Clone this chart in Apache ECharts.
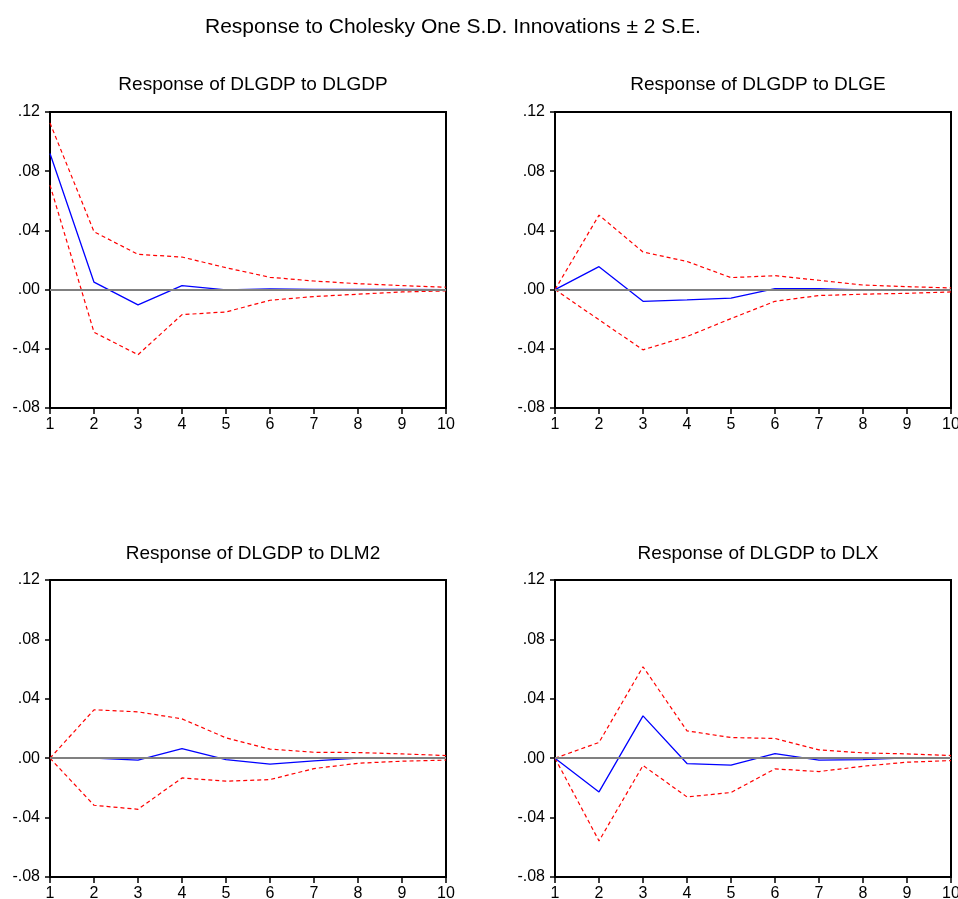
<!DOCTYPE html>
<html>
<head>
<meta charset="utf-8">
<script src="https://cdn.jsdelivr.net/npm/echarts@6/dist/echarts.min.js"></script>
<style>
html,body{margin:0;padding:0;background:#fff;}
#chart{width:958px;height:899px;}
</style>
</head>
<body>
<div id="chart"></div>
<script>
const periods = ['1','2','3','4','5','6','7','8','9','10'];
const mainTitle = 'Response to Cholesky One S.D. Innovations \u00b1 2 S.E.';
const panelTitles = ['Response of DLGDP to DLGDP','Response of DLGDP to DLGE','Response of DLGDP to DLM2','Response of DLGDP to DLX'];

// Panel 1: DLGDP -> DLGDP
const resp1  = [0.092, 0.005, -0.0103, 0.0027, -0.0002, 0.0004, 0.0002, 0.0001, 0.0001, 0.0];
const upper1 = [0.1126, 0.0391, 0.0238, 0.022, 0.0148, 0.0083, 0.0058, 0.004, 0.0027, 0.0016];
const lower1 = [0.0706, -0.0288, -0.044, -0.0169, -0.0151, -0.0072, -0.0047, -0.0031, -0.0016, -0.0009];
// Panel 2: DLGDP -> DLGE
const resp2  = [0, 0.0155, -0.0079, -0.007, -0.0058, 0.0007, 0.0007, -0.0002, -0.0002, -0.0004];
const upper2 = [0, 0.0503, 0.0254, 0.019, 0.0081, 0.0094, 0.0063, 0.0031, 0.002, 0.0011];
const lower2 = [0, -0.0204, -0.0407, -0.0317, -0.0196, -0.0079, -0.004, -0.0031, -0.0025, -0.0016];
// Panel 3: DLGDP -> DLM2
const resp3  = [0, 0.0, -0.0013, 0.0065, -0.0009, -0.004, -0.0018, 0.0, 0.0002, 0.0];
const upper3 = [0, 0.0326, 0.0312, 0.0265, 0.0137, 0.0061, 0.004, 0.0038, 0.0029, 0.0018];
const lower3 = [0, -0.0317, -0.0344, -0.0133, -0.0155, -0.0144, -0.007, -0.0034, -0.002, -0.0013];
// Panel 4: DLGDP -> DLX
const resp4  = [0, -0.0227, 0.0285, -0.0036, -0.0047, 0.0031, -0.0013, -0.0009, 0.0002, 0.0002];
const upper4 = [0, 0.0106, 0.0616, 0.0184, 0.0139, 0.0133, 0.0056, 0.0036, 0.0029, 0.0018];
const lower4 = [0, -0.0557, -0.0049, -0.0261, -0.0231, -0.0072, -0.009, -0.0054, -0.0027, -0.0016];

const yTickMin = -0.08, yTickMax = 0.12, yTickStep = 0.04;

const panels = [
  {resp: resp1, upper: upper1, lower: lower1},
  {resp: resp2, upper: upper2, lower: lower2},
  {resp: resp3, upper: upper3, lower: lower3},
  {resp: resp4, upper: upper4, lower: lower4}
];
const gridPos = [
  {left: 50, top: 112, width: 396, height: 296},
  {left: 555, top: 112, width: 396, height: 296},
  {left: 50, top: 580, width: 396, height: 297},
  {left: 555, top: 580, width: 396, height: 297}
];
const titleTops = [70, 70, 539, 539];
const FONT = '"Liberation Sans", Arial, sans-serif';

const fmt = v => {
  let s = (Math.round(v * 100) / 100).toFixed(2);
  if (s === '-0.00') s = '0.00';
  return s.replace('0.', '.');
};

const option = {
  backgroundColor: '#fff',
  animation: false,
  title: [{
    text: mainTitle, left: 200, top: 12,
    textStyle: {fontFamily: FONT, fontSize: 21, fontWeight: 'normal', color: '#000'}
  }].concat(panelTitles.map((t, i) => ({
    text: t, left: gridPos[i].left + gridPos[i].width / 2, top: titleTops[i], textAlign: 'center',
    textStyle: {fontFamily: FONT, fontSize: 19, fontWeight: 'normal', color: '#000'}
  }))),
  grid: gridPos.map(g => Object.assign({show: true, borderColor: '#000', borderWidth: 2, backgroundColor: '#fff',
    containLabel: false, outerBoundsMode: 'none'}, g)),
  xAxis: gridPos.map((g, i) => ({
    type: 'category', gridIndex: i, data: periods, boundaryGap: false,
    axisLine: {show: true, onZero: false, lineStyle: {color: '#000', width: 2}},
    axisTick: {show: true, inside: false, length: 6, alignWithLabel: true, lineStyle: {color: '#000', width: 1.5}},
    axisLabel: {color: '#000', fontFamily: FONT, fontSize: 16, margin: 9, interval: 0},
    splitLine: {show: false}
  })),
  yAxis: gridPos.map((g, i) => ({
    type: 'value', gridIndex: i, min: yTickMin, max: yTickMax, interval: yTickStep,
    axisLine: {show: true, onZero: false, lineStyle: {color: '#000', width: 2}},
    axisTick: {show: true, inside: false, length: 5, lineStyle: {color: '#000', width: 1.5}},
    axisLabel: {color: '#000', fontFamily: FONT, fontSize: 16, margin: 10, formatter: fmt,
      verticalAlign: 'middle', padding: [0, 0, 6, 0]},
    splitLine: {show: false}
  })),
  series: []
};

panels.forEach((p, i) => {
  option.series.push({
    type: 'line', xAxisIndex: i, yAxisIndex: i, data: p.upper, symbol: 'none', z: 3,
    lineStyle: {color: '#ff0000', width: 1.2, type: [4, 3]},
    markLine: {
      silent: true, symbol: 'none', label: {show: false}, animation: false,
      lineStyle: {color: '#808080', width: 2, type: 'solid'},
      data: [{yAxis: 0}]
    }
  });
  option.series.push({
    type: 'line', xAxisIndex: i, yAxisIndex: i, data: p.lower, symbol: 'none', z: 3,
    lineStyle: {color: '#ff0000', width: 1.2, type: [4, 3]}
  });
  option.series.push({
    type: 'line', xAxisIndex: i, yAxisIndex: i, data: p.resp, symbol: 'none', z: 4,
    lineStyle: {color: '#0000ff', width: 1.3, type: 'solid'}
  });
});

const chart = echarts.init(document.getElementById('chart'), null, {renderer: 'canvas'});
chart.setOption(option);
</script>
</body>
</html>
